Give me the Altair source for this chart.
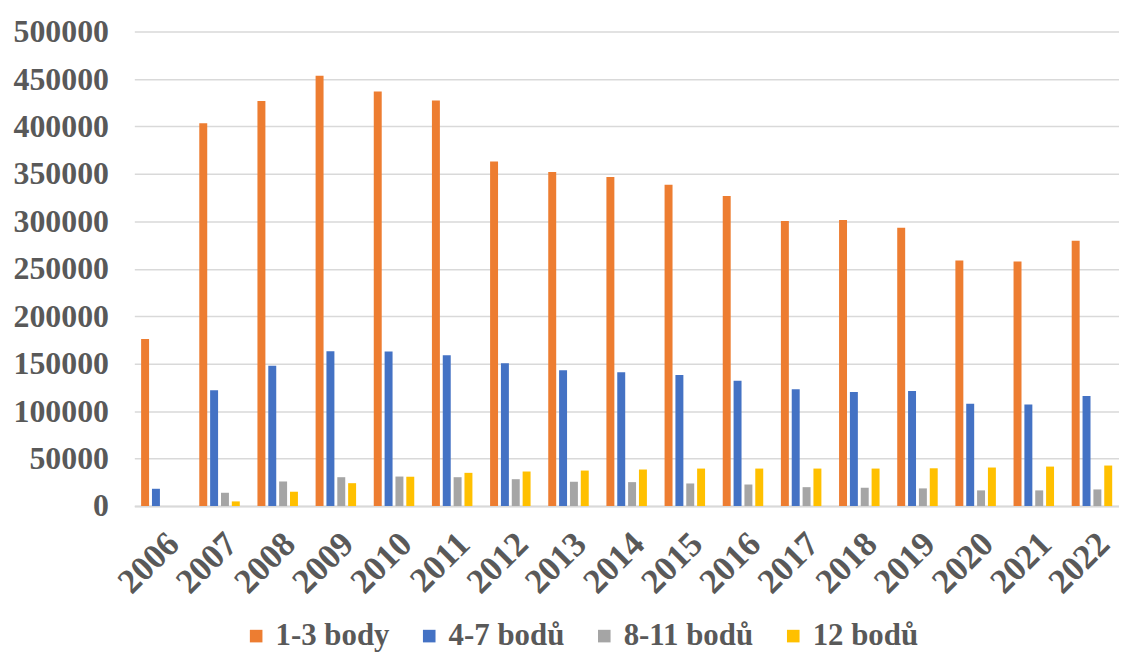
import altair as alt
import pandas as pd

years = [str(y) for y in range(2006, 2023)]
series = ["1-3 body", "4-7 bodů", "8-11 bodů", "12 bodů"]
colors = ["#ED7D31", "#4472C4", "#A5A5A5", "#FFC000"]

body_1_3 = [176000, 403500, 427000, 453500, 437000, 427500, 363000, 352000, 346700, 338500,
            326700, 300500, 301500, 293200, 258700, 257700, 279700]
body_4_7 = [18200, 122000, 147800, 163200, 162900, 159000, 150600, 143000, 140900, 138000,
            132100, 123000, 120200, 121300, 107700, 107000, 116000]
body_8_11 = [0, 14000, 25900, 30400, 31100, 30400, 28300, 25600, 25200, 23800,
             22700, 19900, 19300, 18600, 16500, 16500, 17500]
body_12 = [0, 4900, 15100, 24100, 30900, 35000, 36400, 37400, 38500, 39500,
           39500, 39500, 39500, 39800, 40600, 41600, 42700]

rows = []
for s, vals in zip(series, [body_1_3, body_4_7, body_8_11, body_12]):
    for y, v in zip(years, vals):
        rows.append({"rok": y, "kategorie": s, "pocet": v})
df = pd.DataFrame(rows)

font = "Liberation Serif"
txt = "#595959"

chart = alt.Chart(df).mark_bar(size=8).encode(
    x=alt.X("rok:N", sort=years, title=None,
            scale=alt.Scale(paddingInner=0.31, paddingOuter=0.12),
            axis=alt.Axis(labelAngle=-45, labelFont=font, labelFontSize=35,
                          labelFontWeight="bold", labelColor=txt, domainColor="#D9D9D9",
                          domainWidth=2, ticks=False, labelPadding=20)),
    xOffset=alt.XOffset("kategorie:N", sort=series,
                        scale=alt.Scale(paddingInner=0.3, paddingOuter=0.0)),
    y=alt.Y("pocet:Q", title=None,
            scale=alt.Scale(domain=[0, 500000], nice=False),
            axis=alt.Axis(values=list(range(0, 500001, 50000)), format="d",
                          labelFont=font, labelFontSize=32, labelFontWeight="bold",
                          labelColor=txt, gridColor="#D9D9D9", gridWidth=1.5,
                          domain=False, ticks=False, labelPadding=26)),
    color=alt.Color("kategorie:N", sort=series,
                    scale=alt.Scale(domain=series, range=colors),
                    legend=alt.Legend(orient="none", legendX=107, legendY=592,
                                      direction="horizontal", title=None,
                                      symbolType="square", symbolSize=160,
                                      symbolStrokeWidth=0,
                                      labelFont=font, labelFontSize=31,
                                      labelFontWeight="bold", labelColor=txt,
                                      columnPadding=24, symbolOffset=0,
                                      labelOffset=4)),
).properties(
    width=990, height=477, padding={"top": 6, "left": 5, "right": 0, "bottom": 0}
).configure_view(stroke=None)

chart.save("out.html", embed_options={"renderer": "svg", "actions": False})
